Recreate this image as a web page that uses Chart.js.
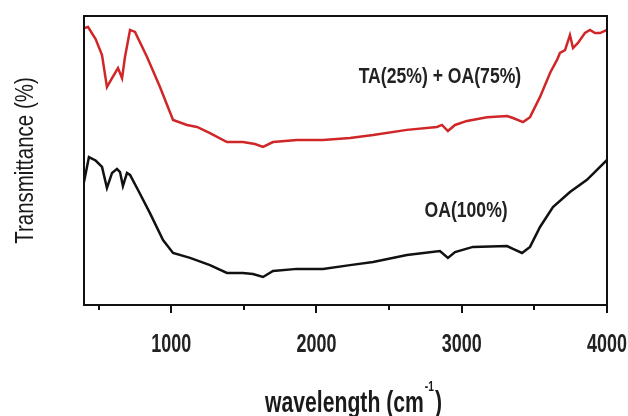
<!DOCTYPE html>
<html lang="en">
<head>
    <meta charset="UTF-8">
    <title>FTIR Transmittance</title>
    <script src="https://cdn.jsdelivr.net/npm/chart.js"></script>
    <style>
        body { margin: 0; background: #fff; }
        #wrap { width: 628px; height: 416px; }
    </style>
</head>
<body>
    <div id="wrap">
        <canvas id="ftirChart" width="628" height="416"></canvas>
    </div>

    <script>
        // TA(25%) + OA(75%) spectrum
        const redWavenumbers = [400, 428, 480, 524, 558, 593, 634, 662, 682, 717, 751, 834, 923, 1013, 1109, 1178, 1267, 1384, 1494, 1577, 1632, 1701, 1866, 2045, 2231, 2390, 2623, 2830, 2864, 2905, 2954, 3036, 3174, 3312, 3353, 3422, 3470, 3539, 3608, 3656, 3676, 3711, 3745, 3766, 3800, 3848, 3883, 3917, 3952, 4000];
        const redValues = [95.8, 96.2, 92, 86.5, 75.4, 78.5, 82, 78.5, 85.8, 95.2, 94.5, 85.8, 75.4, 64, 62.3, 61.6, 59.5, 56.4, 56.4, 55.7, 54.7, 56.4, 57.1, 57.1, 57.8, 58.8, 60.6, 61.6, 62.3, 60.2, 62.3, 63.7, 65, 65.4, 64.7, 63.3, 65, 72, 80.3, 84.8, 87.2, 88.2, 93.4, 88.9, 90.7, 94.1, 95.2, 94.1, 94.1, 95.2];

        // OA(100%) spectrum
        const blackWavenumbers = [400, 434, 480, 524, 558, 593, 627, 648, 668, 696, 717, 780, 854, 944, 1013, 1130, 1267, 1384, 1494, 1563, 1632, 1701, 1866, 2045, 2231, 2390, 2623, 2850, 2905, 2954, 3077, 3312, 3353, 3415, 3470, 3539, 3628, 3745, 3862, 4000];
        const blackValues = [42.6, 51.2, 50, 47.8, 40.5, 45.7, 47.1, 46, 41.2, 45.7, 45, 39, 31.8, 22.5, 18, 16.3, 13.8, 11.1, 11.1, 10.7, 9.7, 11.8, 12.5, 12.5, 13.8, 14.9, 17.3, 18.7, 16.3, 18.3, 20.1, 20.4, 19.4, 18, 20.1, 27, 33.9, 39.1, 43.3, 50.2];

        const xTicks = [500, 1000, 1500, 2000, 2500, 3000, 3500, 4000];
        const xTickLabels = ['', '1000', '', '2000', '', '3000', '', '4000'];
        const seriesLabels = ['TA(25%) + OA(75%)', 'OA(100%)'];

        const sans = '"Liberation Sans", Arial, sans-serif';

        function toPoints(xs, ys) {
            return xs.map((x, i) => ({ x: x, y: ys[i] }));
        }

        // the figure's lettering is tall and narrow, so squeeze it sideways
        function squeezedText(ctx, text, x, y, font, sx) {
            ctx.save();
            ctx.font = font;
            ctx.translate(x, y);
            ctx.scale(sx, 1);
            ctx.fillText(text, 0, 0);
            ctx.restore();
        }

        const framePlugin = {
            id: 'frame',
            afterDraw(chart) {
                const ctx = chart.ctx;
                const area = chart.chartArea;
                const xs = chart.scales.x;
                ctx.save();
                ctx.strokeStyle = '#111';
                ctx.lineWidth = 2;
                ctx.strokeRect(area.left, area.top, area.right - area.left, area.bottom - area.top);

                // tick marks, long for thousands
                xTicks.forEach(v => {
                    const px = Math.round(xs.getPixelForValue(v));
                    const len = v % 1000 === 0 ? 8 : 5;
                    ctx.beginPath();
                    ctx.moveTo(px, area.bottom);
                    ctx.lineTo(px, area.bottom + len);
                    ctx.stroke();
                });

                ctx.fillStyle = '#222';
                ctx.textAlign = 'center';
                ctx.textBaseline = 'alphabetic';
                xTicks.forEach((v, i) => {
                    if (xTickLabels[i]) {
                        squeezedText(ctx, xTickLabels[i], xs.getPixelForValue(v), area.bottom + 47, 'bold 26px ' + sans, 0.69);
                    }
                });

                // curve labels
                squeezedText(ctx, seriesLabels[0], xs.getPixelForValue(2850), 83, 'bold 22px ' + sans, 0.8);
                squeezedText(ctx, seriesLabels[1], xs.getPixelForValue(3030), 217, 'bold 22px ' + sans, 0.8);

                // x title with superscript
                ctx.fillStyle = '#1a1a1a';
                const main = 'wavelength (cm';
                const sup = '-1';
                const tail = ')';
                const sx = 0.73;
                ctx.font = 'bold 29px ' + sans;
                const wMain = ctx.measureText(main).width * sx;
                const wTail = ctx.measureText(tail).width * sx;
                ctx.font = 'bold 14px ' + sans;
                const wSup = ctx.measureText(sup).width * sx + 2;
                let x0 = (area.left + area.right) / 2 + 8 - (wMain + wSup + wTail) / 2;
                ctx.textAlign = 'left';
                squeezedText(ctx, main, x0, 412, 'bold 29px ' + sans, sx);
                squeezedText(ctx, sup, x0 + wMain + 1, 391, 'bold 14px ' + sans, sx);
                squeezedText(ctx, tail, x0 + wMain + wSup, 412, 'bold 29px ' + sans, sx);

                // y title, rotated
                ctx.save();
                ctx.translate(33, (area.top + area.bottom) / 2);
                ctx.rotate(-Math.PI / 2);
                ctx.textAlign = 'center';
                squeezedText(ctx, 'Transmittance (%)', 0, 0, '25px ' + sans, 0.82);
                ctx.restore();

                ctx.restore();
            }
        };

        new Chart(document.getElementById('ftirChart'), {
            type: 'line',
            data: {
                datasets: [{
                    label: seriesLabels[0],
                    data: toPoints(redWavenumbers, redValues),
                    borderColor: '#d02628',
                    borderWidth: 2.5,
                    pointRadius: 0,
                    tension: 0
                }, {
                    label: seriesLabels[1],
                    data: toPoints(blackWavenumbers, blackValues),
                    borderColor: '#111',
                    borderWidth: 2.5,
                    pointRadius: 0,
                    tension: 0
                }]
            },
            options: {
                responsive: false,
                animation: false,
                layout: {
                    padding: { top: 16, right: 21, left: 0, bottom: 0 }
                },
                plugins: {
                    legend: { display: false },
                    tooltip: { enabled: false }
                },
                scales: {
                    x: {
                        type: 'linear',
                        min: 400,
                        max: 4000,
                        afterFit(scale) {
                            scale.height = 111;
                            scale.paddingLeft = 0;
                            scale.paddingRight = 0;
                        },
                        grid: { display: false, drawTicks: false },
                        border: { display: false },
                        ticks: { display: false }
                    },
                    y: {
                        min: 0,
                        max: 100,
                        afterFit(scale) {
                            scale.width = 84;
                            scale.paddingTop = 0;
                            scale.paddingBottom = 0;
                        },
                        grid: { display: false, drawTicks: false },
                        border: { display: false },
                        ticks: { display: false }
                    }
                }
            },
            plugins: [framePlugin]
        });
    </script>
</body>
</html>
